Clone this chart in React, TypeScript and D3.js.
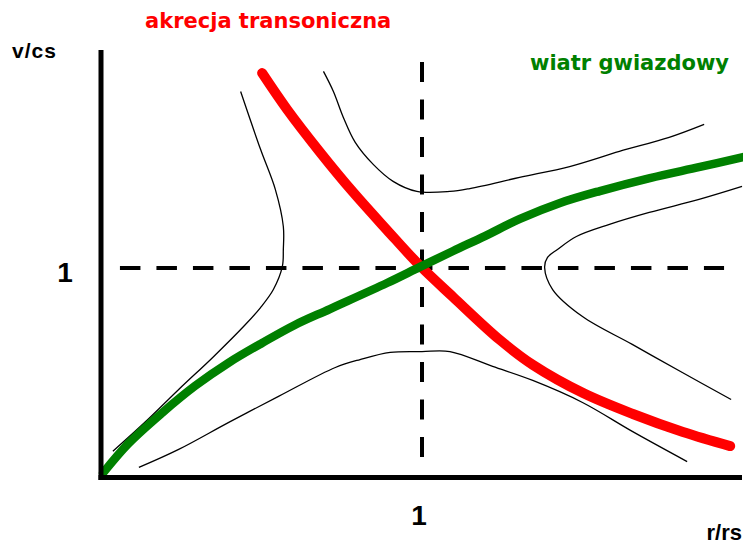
import React from "react";
import * as d3 from "d3";

type P = [number, number];

// critical solutions (r/rs, v/cs)
const windCurve: P[] = [
  [0.006, 0.021], [0.084, 0.16], [0.19, 0.308], [0.293, 0.437], [0.396, 0.546],
  [0.502, 0.642], [0.604, 0.728], [0.713, 0.804], [0.891, 0.928], [0.994, 1.005],
  [1.097, 1.081], [1.196, 1.152], [1.305, 1.234], [1.43, 1.31], [1.554, 1.367],
  [1.71, 1.429], [1.866, 1.482], [2.0, 1.529],
];

const accretionCurve: P[] = [
  [0.502, 1.93], [0.579, 1.758], [0.682, 1.553], [0.785, 1.362], [0.891, 1.181],
  [0.994, 1.01], [1.097, 0.861], [1.243, 0.656], [1.346, 0.537], [1.502, 0.403],
  [1.657, 0.303], [1.813, 0.217], [1.96, 0.15],
];

// other solution families
const leftBranch: P[] = [
  [0.435, 1.842], [0.497, 1.566], [0.543, 1.375], [0.568, 1.198], [0.568, 1.088],
  [0.565, 1.007], [0.537, 0.897], [0.497, 0.811], [0.45, 0.73], [0.348, 0.573],
  [0.242, 0.42], [0.14, 0.268], [0.037, 0.125],
];

const topBranch: P[] = [
  [0.693, 1.938], [0.724, 1.842], [0.755, 1.718], [0.792, 1.599], [0.848, 1.494],
  [0.91, 1.413], [0.984, 1.365], [1.087, 1.365], [1.149, 1.379], [1.304, 1.432],
  [1.46, 1.484], [1.615, 1.556], [1.77, 1.623], [1.879, 1.685],
];

const rightBranch: P[] = [
  [1.997, 1.389], [1.863, 1.327], [1.708, 1.265], [1.584, 1.208], [1.481, 1.15],
  [1.422, 1.088], [1.391, 1.05], [1.382, 1.002], [1.407, 0.897], [1.5, 0.768],
  [1.655, 0.635], [1.811, 0.501], [1.963, 0.372],
];

const bottomBranch: P[] = [
  [0.118, 0.048], [0.242, 0.134], [0.398, 0.263], [0.553, 0.387], [0.73, 0.525],
  [0.807, 0.563], [0.901, 0.597], [1.0, 0.601], [1.087, 0.601], [1.22, 0.53],
  [1.345, 0.463], [1.5, 0.358], [1.655, 0.22], [1.826, 0.076],
];

const thinCurves: P[][] = [leftBranch, topBranch, rightBranch, bottomBranch];

const xTick = "1";
const yTick = "1";
const xLabel = "r/rs";
const yLabel = "v/cs";
const accretionLabel = "akrecja transoniczna";
const windLabel = "wiatr gwiazdowy";

const W = 743;
const H = 544;

export default function App() {
  const x = d3.scaleLinear().domain([0, 2]).range([101, 743]);
  const y = d3.scaleLinear().domain([0, 2.04]).range([477.5, 50]);
  const line = d3
    .line<P>()
    .x((d) => x(d[0]))
    .y((d) => y(d[1]))
    .curve(d3.curveCatmullRom.alpha(0.5));

  const labelFont = "'Liberation Sans', Arial, sans-serif";
  const titleFont = "'DejaVu Sans', Verdana, sans-serif";

  return (
    <svg
      width={W}
      height={H}
      style={{ position: "absolute", left: 0, top: 0, background: "#fff", display: "block" }}
    >
      {/* dashed reference lines */}
      <line
        x1={x(0.059)}
        x2={x(1.941)}
        y1={y(1)}
        y2={y(1)}
        stroke="#000"
        strokeWidth={4}
        strokeDasharray="20.5 16"
      />
      <line
        x1={x(1)}
        x2={x(1)}
        y1={y(1.983)}
        y2={y(0.098)}
        stroke="#000"
        strokeWidth={4}
        strokeDasharray="20 17.5"
      />

      {/* thin solution curves */}
      {thinCurves.map((c, i) => (
        <path key={i} d={line(c) || ""} fill="none" stroke="#000" strokeWidth={1.3} />
      ))}

      {/* critical curves */}
      <path
        d={line(accretionCurve) || ""}
        fill="none"
        stroke="#ff0000"
        strokeWidth={10}
        strokeLinecap="round"
      />
      <path
        d={line(windCurve) || ""}
        fill="none"
        stroke="#008000"
        strokeWidth={8.5}
        strokeLinecap="round"
      />

      {/* axes */}
      <line x1={x(0)} x2={x(0)} y1={y(2.04)} y2={y(0) + 2.5} stroke="#000" strokeWidth={5} />
      <line x1={x(0) - 2.5} x2={x(2) - 1} y1={y(0)} y2={y(0)} stroke="#000" strokeWidth={5} />

      {/* labels */}
      <text x={12} y={58} fontFamily={labelFont} fontWeight="bold" fontSize={21} letterSpacing={1}>
        {yLabel}
      </text>
      <text x={65} y={282} textAnchor="middle" fontFamily={labelFont} fontWeight="bold" fontSize={28}>
        {yTick}
      </text>
      <text x={x(1) - 3} y={525} textAnchor="middle" fontFamily={labelFont} fontWeight="bold" fontSize={28}>
        {xTick}
      </text>
      <text x={742} y={540} textAnchor="end" fontFamily={labelFont} fontWeight="bold" fontSize={22}>
        {xLabel}
      </text>
      <text x={145} y={28} fill="#ff0000" fontFamily={titleFont} fontWeight="bold" fontSize={21}>
        {accretionLabel}
      </text>
      <text x={530} y={70} fill="#008000" fontFamily={titleFont} fontWeight="bold" fontSize={21}>
        {windLabel}
      </text>
    </svg>
  );
}
